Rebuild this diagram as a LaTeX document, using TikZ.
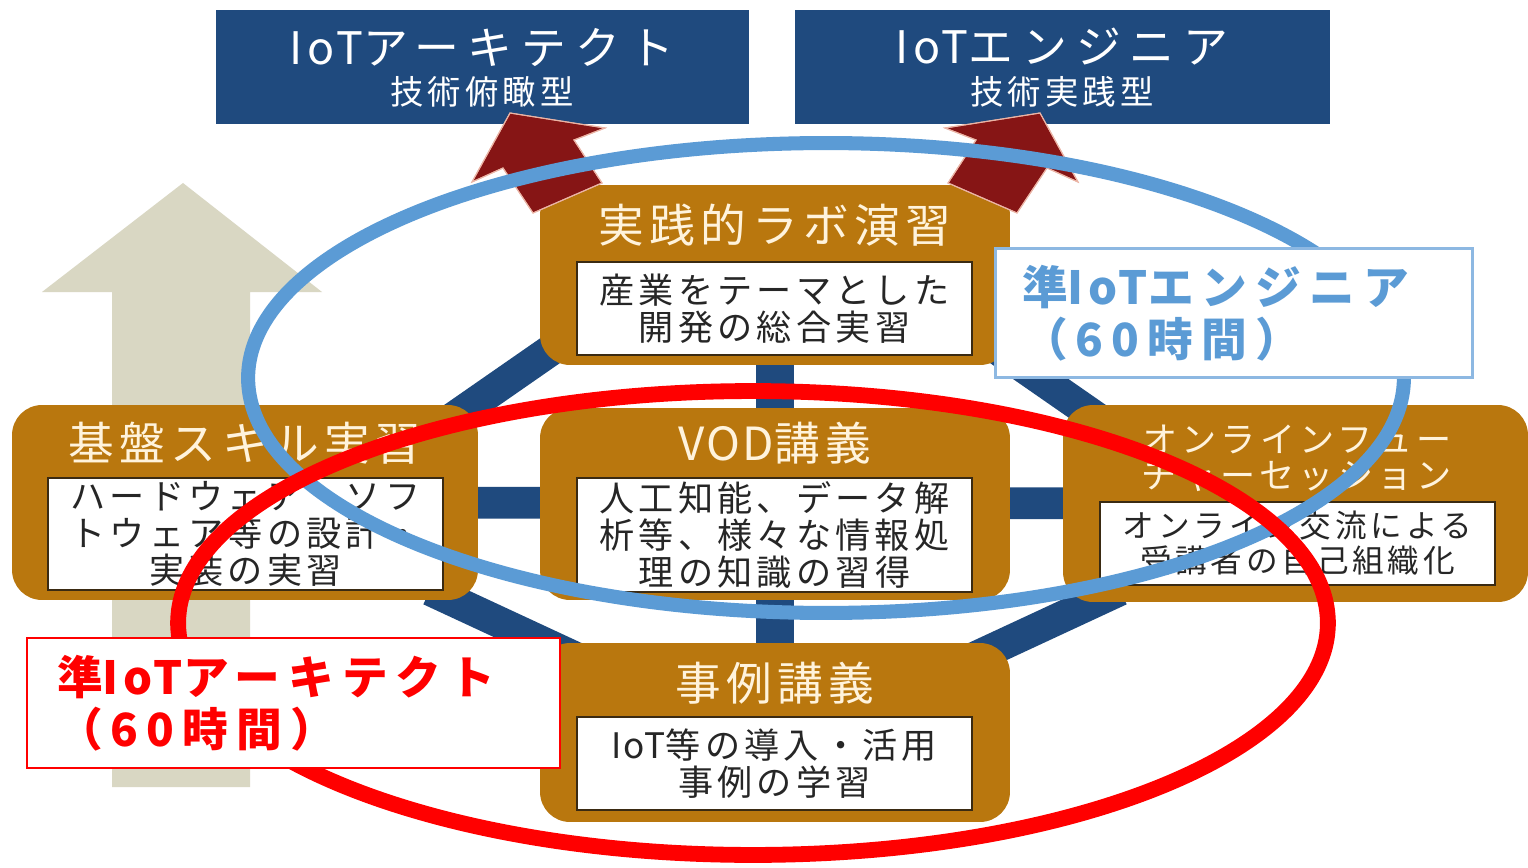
\documentclass[tikz,border=0pt]{standalone}
\usepackage{fontspec}
\setmainfont{Noto Sans CJK JP}
\newfontfamily\fTop{Noto Sans CJK JP}[LetterSpace=20]
\newfontfamily\fMid{Noto Sans CJK JP}[LetterSpace=12]
\newfontfamily\fLab{Noto Sans CJK JP}[LetterSpace=18]
\newcommand{\lat}[2][5]{{\addfontfeatures{LetterSpace=#1}#2}}
\usetikzlibrary{backgrounds}
\definecolor{navy}{HTML}{1F4A7E}
\definecolor{brownc}{HTML}{B9770E}
\definecolor{cream}{HTML}{FFF3DC}
\definecolor{beige}{HTML}{D9D7C3}
\definecolor{darkred}{HTML}{861515}
\definecolor{lblue}{HTML}{5B9BD5}
\definecolor{labblue}{HTML}{8DB8E2}
\definecolor{innerb}{HTML}{3A2A12}
\definecolor{ink}{HTML}{262626}
\definecolor{redc}{HTML}{FF0000}
\begin{document}
\begin{tikzpicture}[x=0.02cm,y=-0.02cm,
  topbox/.style={fill=navy,draw=none,inner sep=0pt,minimum height=2.28cm},
  toptitle/.style={text=white,font=\fTop\fontsize{25.5}{27}\selectfont,inner sep=0pt},
  topsub/.style={text=white,font=\fMid\fontsize{19}{21}\selectfont,inner sep=0pt},
  brownbox/.style={fill=brownc,draw=none,rounded corners=0.6cm,inner sep=0pt,minimum width=9.4cm},
  btitle/.style={text=cream,font=\fMid\fontsize{26}{28}\selectfont,inner sep=0pt,align=center},
  innerbox/.style={fill=white,draw=innerb,line width=1.1pt,inner sep=0pt,minimum width=7.9cm,align=center,text=ink,font=\fMid\fontsize{20}{21}\selectfont},
  connh/.style={draw=navy,line width=18pt},
  connv/.style={draw=navy,line width=22pt},
  redarrow/.style={fill=darkred,draw={rgb,255:red,235;green,180;blue,165},line width=0.6pt,line join=miter},
  ringb/.style={draw=lblue,line width=8pt},
  ringr/.style={draw=redc,line width=9pt},
  tagbox/.style={fill=white,inner ysep=0pt,minimum height=2.6cm,align=left,font=\fLab\bfseries\fontsize{26}{29.5}\selectfont}
]
\useasboundingbox (0,0) rectangle (1528,868);

% top navy boxes
\node[topbox,minimum width=10.66cm] (arch) at (482.5,67) {};
\node[topbox,minimum width=10.7cm] (eng) at (1062.5,67) {};
\node[toptitle] (archT) at (482,47) {\lat[10]{IoT}アーキテクト};
\node[topsub] (archS) at (482,92) {技術俯瞰型};
\node[toptitle] (engT) at (1062,47) {\lat[10]{IoT}エンジニア};
\node[topsub] (engS) at (1062,92) {技術実践型};

% brown boxes
\node[brownbox,minimum height=3.6cm] (labT) at (775,275) {};
\node[brownbox,minimum height=3.84cm] (vod) at (775,504) {};
\node[brownbox,minimum width=9.32cm,minimum height=3.9cm] (kiban) at (245,502.5) {};
\node[brownbox,minimum width=9.3cm,minimum height=3.94cm] (online) at (1295.5,503.5) {};
\node[brownbox,minimum height=3.58cm] (jirei) at (775,732.5) {};

% titles
\node[btitle] (labTt) at (775,225) {実践的ラボ演習};
\node[btitle] (vodt) at (775,443) {\lat{VOD}講義};
\node[btitle] (kibant) at (245,443) {基盤スキル実習};
\node[btitle,font=\fMid\fontsize{20}{20.5}\selectfont] (onlinet) at (1297,458) {オンラインフュー\\チャーセッション};
\node[btitle] (jireit) at (775,683) {事例講義};

% inner boxes
\node[innerbox,minimum height=1.86cm] (labTi) at (774.5,308.5) {産業をテーマとした\\開発の総合実習};
\node[innerbox,minimum height=2.28cm] (vodi) at (774.5,535) {人工知能、データ解\\析等、様々な情報処\\理の知識の習得};
\node[innerbox,minimum height=2.24cm] (kibani) at (245.5,534) {ハードウェア・ソフ\\トウェア等の設計・\\実装の実習};
\node[innerbox,minimum height=1.66cm,font=\fMid\fontsize{18}{20}\selectfont] (onlinei) at (1297.5,543.5) {オンライン交流による\\受講者の自己組織化};
\node[innerbox,minimum height=1.86cm] (jireii) at (774.5,763.5) {\lat{IoT}等の導入・活用\\事例の学習};

% connector end points
\coordinate (tlA) at (600,316); \coordinate (tlB) at (420,441);
\coordinate (trA) at (950,316); \coordinate (trB) at (1130,441);
\coordinate (blA) at (430,590); \coordinate (blB) at (600,669);
\coordinate (brA) at (1120,590); \coordinate (brB) at (950,669);

\begin{scope}[on background layer]
\fill[white] (0,0) rectangle (1528,868);
\fill[beige] (183,183) -- (322,292) -- (250,292) -- (250,787) -- (112,787) -- (112,292) -- (42,292) -- cycle;
\draw[connv] (labT.center) -- (vod.center);
\draw[connv] (vod.center) -- (jirei.center);
\draw[connh] (kiban.center) -- (online.center);
\draw[connh] (tlA) -- (tlB);
\draw[connh] (trA) -- (trB);
\draw[connh] (blA) -- (blB);
\draw[connh] (brA) -- (brB);
\end{scope}

% dark red arrows
\fill[redarrow] (510,113) -- (605,128) -- (574,140) -- (602,183) -- (533,213) -- (503,168) -- (472,182) -- cycle;
\fill[redarrow] (1040,113) -- (945,128) -- (976,140) -- (948,183) -- (1017,213) -- (1047,168) -- (1078,182) -- cycle;
\draw[redarrow,fill=none] (510,113) -- (605,128) -- (574,140) -- (602,183) -- (533,213) -- (503,168) -- (472,182) -- cycle;
\draw[redarrow,fill=none] (1040,113) -- (945,128) -- (976,140) -- (948,183) -- (1017,213) -- (1047,168) -- (1078,182) -- cycle;

% rings
\draw[ringb] (826,378) ellipse [x radius=11.56cm, y radius=4.70cm];
\draw[ringr] (753,623) ellipse [x radius=11.5cm, y radius=4.64cm];

% tag labels
\node[tagbox,draw=labblue,line width=1.7pt,text=lblue,text width=8.48cm,inner xsep=0.54cm] (jlab) at (1234,313) {準\lat[10]{IoT}エンジニア\\（60時間）};
\node[tagbox,draw=redc,line width=1.5pt,text=redc,text width=9.46cm,inner xsep=0.6cm] (alab) at (293.5,703) {準\lat[10]{IoT}アーキテクト\\（60時間）};
\end{tikzpicture}
\end{document}
